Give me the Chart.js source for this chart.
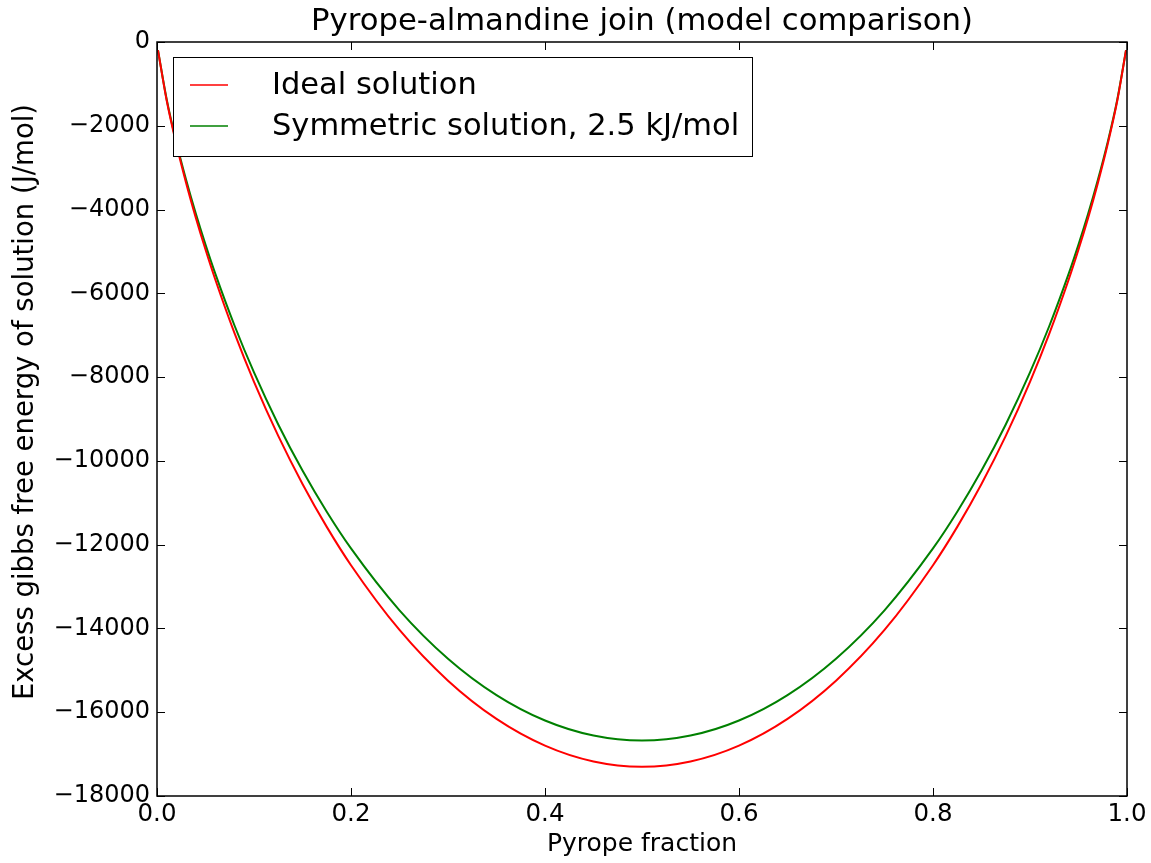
<!DOCTYPE html>
<html>
<head>
<meta charset="utf-8">
<script src="https://cdn.jsdelivr.net/npm/chart.js@4"></script>
<style>
  html, body { margin: 0; padding: 0; background: #fff; }
  #wrap { width: 1151px; height: 863px; }
</style>
</head>
<body>
<div id="wrap"><canvas id="chart1" width="1151" height="863"></canvas></div>
<script>
// pyrope fraction
const pyropeFraction = [0.001, 0.01, 0.02, 0.03, 0.04, 0.05, 0.06, 0.08, 0.1, 0.125, 0.15, 0.175, 0.2, 0.25, 0.3, 0.35, 0.4, 0.45, 0.5,
  0.55, 0.6, 0.65, 0.7, 0.75, 0.8, 0.825, 0.85, 0.875, 0.9, 0.92, 0.94, 0.95, 0.96, 0.97, 0.98, 0.99, 0.999];
// J/mol
const idealSolution = [-197, -1398, -2447, -3363, -4192, -4955, -5665, -6958, -8114, -9404, -10551, -11575, -12490, -14036, -15247, -16160, -16798, -17176, -17301,
  -17176, -16798, -16160, -15247, -14036, -12490, -11575, -10551, -9404, -8114, -6958, -5665, -4955, -4192, -3363, -2447, -1398, -197];
const symmetricSolution = [-195, -1373, -2398, -3290, -4096, -4836, -5524, -6774, -7889, -9131, -10232, -11214, -12090, -13567, -14722, -15591, -16198, -16557, -16676,
  -16557, -16198, -15591, -14722, -13567, -12090, -11214, -10232, -9131, -7889, -6774, -5524, -4836, -4096, -3290, -2398, -1373, -195];
const seriesNames = ['Ideal solution', 'Symmetric solution, 2.5 kJ/mol'];
const seriesColors = ['#ff0000', '#008000'];
const chartTitle = 'Pyrope-almandine join (model comparison)';
const yTitle = 'Excess gibbs free energy of solution (J/mol)';

const FONT = 'DejaVu Sans';

// title, y label, frame, inward ticks and legend (matplotlib classic look)
const frameTicks = {
  id: 'frameTicks',
  afterDatasetsDraw(chart) {
    const ctx = chart.ctx;
    const a = chart.chartArea;
    const xs = chart.scales.x, ys = chart.scales.y;
    ctx.save();

    ctx.fillStyle = '#000';
    ctx.font = '30.7px "' + FONT + '"';
    ctx.textAlign = 'center';
    ctx.textBaseline = 'alphabetic';
    ctx.fillText(chartTitle, (a.left + a.right) / 2, 30);

    ctx.save();
    ctx.translate(33, 402);
    ctx.rotate(-Math.PI / 2);
    ctx.font = '27.5px "' + FONT + '"';
    ctx.fillText(yTitle, 0, 0);
    ctx.restore();

    ctx.strokeStyle = '#000';
    ctx.lineWidth = 1;
    ctx.beginPath();
    xs.ticks.forEach(t => {
      const px = Math.round(xs.getPixelForValue(t.value)) + 0.5;
      ctx.moveTo(px, a.bottom); ctx.lineTo(px, a.bottom - 8);
      ctx.moveTo(px, a.top); ctx.lineTo(px, a.top + 8);
    });
    ys.ticks.forEach(t => {
      const py = Math.round(ys.getPixelForValue(t.value)) + 0.5;
      ctx.moveTo(a.left, py); ctx.lineTo(a.left + 8, py);
      ctx.moveTo(a.right, py); ctx.lineTo(a.right - 8, py);
    });
    ctx.stroke();
    ctx.lineWidth = 1.5;
    ctx.strokeRect(a.left, a.top, a.right - a.left, a.bottom - a.top);

    // legend box, upper left
    const lx = a.left + 16, ly = a.top + 15;
    ctx.fillStyle = '#fff';
    ctx.fillRect(lx, ly, 579, 99);
    ctx.lineWidth = 1;
    ctx.strokeRect(lx + 0.5, ly + 0.5, 579, 99);
    ctx.font = '30.5px "' + FONT + '"';
    ctx.textBaseline = 'middle';
    ctx.textAlign = 'left';
    chart.data.datasets.forEach((ds, i) => {
      const yy = ly + 28 + i * 41;
      ctx.strokeStyle = ds.borderColor;
      ctx.lineWidth = 1.5;
      ctx.beginPath();
      ctx.moveTo(lx + 17, yy); ctx.lineTo(lx + 55, yy);
      ctx.stroke();
      ctx.fillStyle = '#000';
      ctx.fillText(ds.label, lx + 99, yy + 1);
    });
    ctx.restore();
  }
};

function makeSeries(ys) {
  return pyropeFraction.map((x, i) => ({ x: x, y: ys[i] }));
}

const chart1 = new Chart(document.getElementById('chart1'), {
  type: 'line',
  data: {
    datasets: [
      {
        label: seriesNames[0],
        data: makeSeries(idealSolution),
        borderColor: seriesColors[0],
        borderWidth: 2,
        pointRadius: 0,
        cubicInterpolationMode: 'monotone',
        fill: false
      },
      {
        label: seriesNames[1],
        data: makeSeries(symmetricSolution),
        borderColor: seriesColors[1],
        borderWidth: 2,
        pointRadius: 0,
        cubicInterpolationMode: 'monotone',
        fill: false
      }
    ]
  },
  options: {
    responsive: false,
    devicePixelRatio: 1,
    animation: false,
    layout: { padding: { left: 0, right: 24, top: 42, bottom: 0 } },
    plugins: {
      legend: { display: false },
      tooltip: { enabled: false },
      title: { display: false }
    },
    scales: {
      x: {
        type: 'linear',
        min: 0,
        max: 1,
        ticks: {
          stepSize: 0.2,
          color: '#000',
          padding: -4,
          maxRotation: 0,
          font: { family: FONT, size: 24.5 },
          callback: v => v.toFixed(1)
        },
        grid: { display: false },
        border: { display: false },
        title: {
          display: true,
          text: 'Pyrope fraction',
          color: '#000',
          font: { family: FONT, size: 25 },
          padding: { top: 0, bottom: 4 }
        },
        afterFit: s => { s.height = 67; }
      },
      y: {
        type: 'linear',
        min: -18000,
        max: 0,
        ticks: {
          stepSize: 2000,
          color: '#000',
          padding: -1,
          font: { family: FONT, size: 24 },
          callback: v => v < 0 ? '\u2212' + Math.abs(v) : '0'
        },
        grid: { display: false },
        border: { display: false },
        afterFit: s => { s.width = 157; }
      }
    }
  },
  plugins: [frameTicks]
});
</script>
</body>
</html>
